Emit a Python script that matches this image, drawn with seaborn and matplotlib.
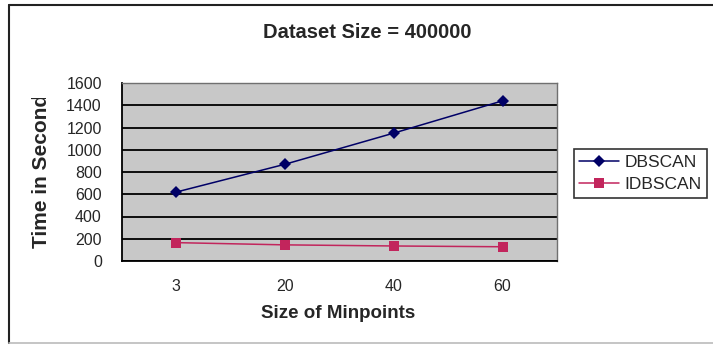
import matplotlib
matplotlib.use("Agg")
import matplotlib.pyplot as plt
from matplotlib.lines import Line2D
from matplotlib.transforms import Bbox, TransformedBbox
import seaborn as sns
import pandas as pd

# Data
minpoints = ["3", "20", "40", "60"]
dbscan = [620, 870, 1150, 1440]
idbscan = [165, 145, 135, 128]
series_names = ["DBSCAN", "IDBSCAN"]

sns.set_theme(style="white")
plt.rcParams["font.family"] = ["Liberation Sans", "DejaVu Sans"]

df = pd.DataFrame({
    "pos": list(range(len(minpoints))) * 2,
    "time": dbscan + idbscan,
    "series": [series_names[0]] * len(minpoints) + [series_names[1]] * len(minpoints),
})

W, H = 713, 345
fig = plt.figure(figsize=(W / 100, H / 100), dpi=100)
ax = fig.add_axes([122 / W, 1 - 261 / H, (557 - 122) / W, (261 - 83) / H])
ax.set_facecolor("#c8c8c8")

palette = {"DBSCAN": "#000066", "IDBSCAN": "#c2255c"}
markers = {"DBSCAN": "D", "IDBSCAN": "s"}
sns.lineplot(data=df, x="pos", y="time", hue="series", style="series",
             palette=palette, markers=markers, dashes=False, markersize=6.5,
             markeredgewidth=0, linewidth=1.1, ax=ax, legend=True, zorder=3)

# Axes limits and ticks
ax.set_xlim(-0.5, len(minpoints) - 0.5)
ax.set_ylim(0, 1600)
ax.set_yticks(range(0, 1601, 200))
ax.set_xticks([i - 0.5 for i in range(len(minpoints) + 1)])
ax.set_xticklabels([])
ax.set_xticks(range(len(minpoints)), minor=True)
ax.set_xticklabels(minpoints, minor=True)
ax.tick_params(axis="x", which="major", direction="inout", length=8, width=1.2, color="black")
ax.tick_params(axis="x", which="minor", length=0, pad=13, labelsize=11.5)
ax.tick_params(axis="y", direction="inout", length=11, width=1.2, color="black", pad=9, labelsize=11.5)
ax.yaxis.grid(True, color="black", linewidth=1.3)
ax.set_axisbelow(True)
ax.set_xlabel("")
ax.set_ylabel("")

for side in ["left", "bottom"]:
    ax.spines[side].set_color("black")
    ax.spines[side].set_linewidth(1.3)
for side in ["top", "right"]:
    ax.spines[side].set_color("#707070")
    ax.spines[side].set_linewidth(1.0)

# Legend
handles, labels = ax.get_legend_handles_labels()
leg = ax.legend(handles, labels, loc="center left",
                bbox_to_anchor=(574 / W, 1 - 173.5 / H), bbox_transform=fig.transFigure,
                frameon=True, fancybox=False, edgecolor="black", facecolor="white",
                fontsize=12.5, handlelength=2.3, handletextpad=0.3, labelspacing=0.42,
                borderpad=0.3, borderaxespad=0)
leg.get_frame().set_linewidth(1.2)

# Titles and axis labels
fig.text(367 / W, 1 - 32 / H, "Dataset Size = 400000", ha="center", va="center",
         fontsize=14.5, fontweight="bold")
fig.text(338 / W, 1 - 314 / H, "Size of Minpoints", ha="center", va="center",
         fontsize=13.5, fontweight="bold")
ylab = fig.text(42 / W, 1 - 248 / H, "Time in Seconds", rotation=90, ha="center", va="bottom",
                fontsize=15, fontweight="bold")
ylab.set_clip_on(True)
ylab.set_clip_box(TransformedBbox(Bbox([[0, 1 - 261 / H], [100 / W, 1 - 98 / H]]), fig.transFigure))

# Outer chart frame
fig.add_artist(Line2D([9 / W, 1], [1 - 5 / H, 1 - 5 / H], transform=fig.transFigure,
                      color="#222222", linewidth=1.5))
fig.add_artist(Line2D([9 / W, 9 / W], [1 - 5 / H, 1 - 343 / H], transform=fig.transFigure,
                      color="#222222", linewidth=1.5))
fig.add_artist(Line2D([9 / W, 1], [1 - 343 / H, 1 - 343 / H], transform=fig.transFigure,
                      color="#bbbbbb", linewidth=1.2))

fig.savefig("out.png", dpi=100)
